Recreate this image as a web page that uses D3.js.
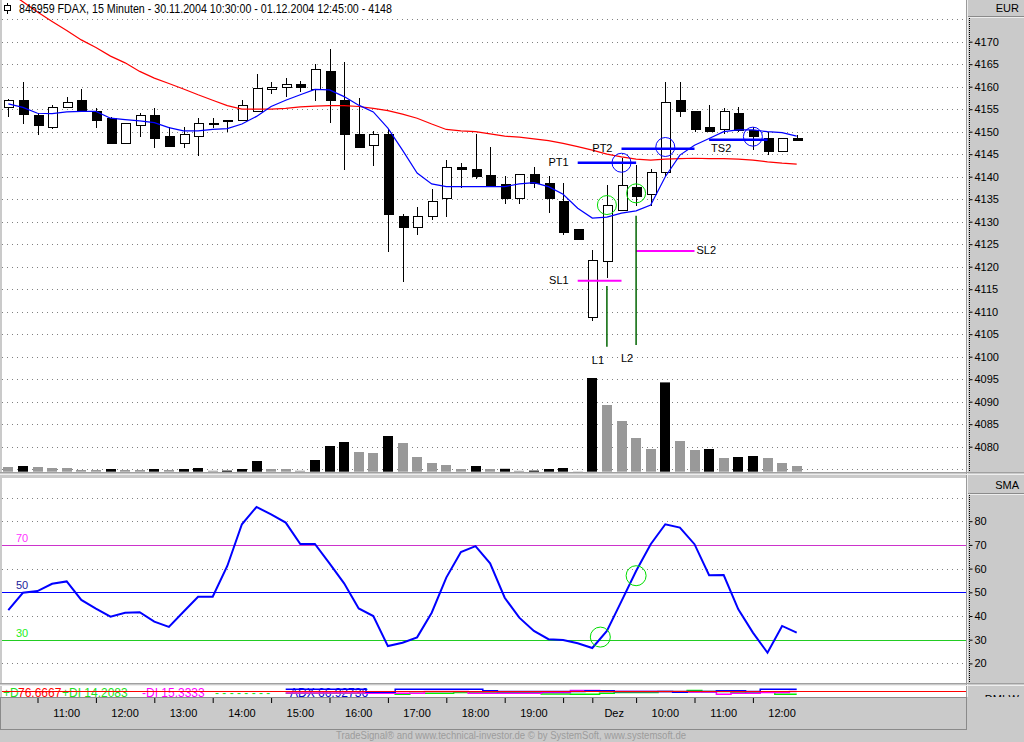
<!DOCTYPE html>
<html>
<head>
<meta charset="utf-8">
<script src="https://cdnjs.cloudflare.com/ajax/libs/d3/7.8.5/d3.min.js"></script>
<style>
  body { margin: 0; background: #cacaca; }
  svg { display: block; font-family: "Liberation Sans", Arial, sans-serif; }
</style>
</head>
<body>
<div id="chart"></div>
<script>
'use strict';

// 15 minute bars, 30.11.2004 10:30 - 01.12.2004 12:45
const times = [
  '30.11. 10:30', '30.11. 10:45', '30.11. 11:00', '30.11. 11:15', '30.11. 11:30', '30.11. 11:45',
  '30.11. 12:00', '30.11. 12:15', '30.11. 12:30', '30.11. 12:45', '30.11. 13:00', '30.11. 13:15',
  '30.11. 13:30', '30.11. 13:45', '30.11. 14:00', '30.11. 14:15', '30.11. 14:30', '30.11. 14:45',
  '30.11. 15:00', '30.11. 15:15', '30.11. 15:30', '30.11. 15:45', '30.11. 16:00', '30.11. 16:15',
  '30.11. 16:30', '30.11. 16:45', '30.11. 17:00', '30.11. 17:15', '30.11. 17:30', '30.11. 17:45',
  '30.11. 18:00', '30.11. 18:15', '30.11. 18:30', '30.11. 18:45', '30.11. 19:00', '30.11. 19:15',
  '30.11. 19:30', '30.11. 19:45', '30.11. 20:00', '30.11. 20:15',
  '01.12. 09:15', '01.12. 09:30', '01.12. 09:45', '01.12. 10:00', '01.12. 10:15', '01.12. 10:30',
  '01.12. 10:45', '01.12. 11:00', '01.12. 11:15', '01.12. 11:30', '01.12. 11:45', '01.12. 12:00',
  '01.12. 12:15', '01.12. 12:30', '01.12. 12:45'
];

const open = [4155.4, 4157.0, 4153.5, 4151.0, 4155.4, 4157.0, 4154.5, 4153.0, 4147.3, 4151.3, 4153.5, 4149.0, 4147.3, 4149.0, 4151.9,
  4152.6, 4152.5, 4154.5, 4159.4, 4159.9, 4160.4, 4159.4, 4163.4, 4157.0, 4149.4, 4147.0, 4149.4, 4131.1, 4128.8, 4131.2, 4135.2,
  4142.1, 4141.7, 4140.2, 4138.2, 4135.2, 4140.5, 4138.5, 4134.5, 4128.2, 4108.8, 4121.1, 4132.5, 4137.6, 4136.1, 4141.0, 4157.0,
  4154.6, 4151.0, 4150.5, 4154.0, 4150.2, 4148.5, 4145.6, 4148.5];
const high = [4157.2, 4161.0, 4154.1, 4155.9, 4157.8, 4159.5, 4155.2, 4153.2, 4152.0, 4154.1, 4155.2, 4151.0, 4151.0, 4153.0, 4153.0,
  4152.6, 4157.0, 4162.8, 4161.0, 4161.9, 4161.3, 4165.0, 4168.4, 4165.5, 4157.4, 4150.2, 4150.5, 4131.7, 4133.3, 4137.3, 4143.7,
  4143.1, 4149.5, 4146.7, 4140.2, 4140.6, 4142.2, 4140.2, 4138.5, 4128.3, 4123.7, 4138.1, 4144.1, 4142.6, 4141.7, 4161.0, 4161.0,
  4154.7, 4155.9, 4155.2, 4155.4, 4151.1, 4150.0, 4148.6, 4149.3];
const low = [4153.3, 4151.8, 4149.3, 4150.5, 4155.3, 4154.4, 4150.9, 4147.3, 4147.2, 4148.9, 4146.4, 4146.7, 4146.4, 4144.6, 4150.9,
  4150.0, 4152.5, 4154.5, 4158.4, 4157.8, 4158.9, 4156.9, 4151.9, 4141.6, 4146.3, 4142.4, 4123.2, 4116.7, 4127.0, 4130.4, 4131.1,
  4137.6, 4139.6, 4137.9, 4133.9, 4133.9, 4137.6, 4132.0, 4127.0, 4125.9, 4108.0, 4117.6, 4132.5, 4133.5, 4133.6, 4140.0, 4153.3,
  4150.0, 4150.1, 4149.6, 4150.0, 4145.9, 4144.8, 4145.5, 4148.0];
const close = [4157.0, 4153.8, 4151.3, 4155.4, 4156.5, 4154.5, 4152.4, 4147.3, 4151.9, 4153.5, 4148.4, 4146.8, 4149.4, 4151.9, 4151.9,
  4152.6, 4155.9, 4159.5, 4159.9, 4160.4, 4159.9, 4163.9, 4156.9, 4149.3, 4146.4, 4149.4, 4131.6, 4128.8, 4131.1, 4134.5, 4142.1,
  4141.6, 4140.0, 4137.9, 4135.2, 4140.5, 4138.5, 4135.2, 4127.6, 4126.0, 4121.3, 4133.7, 4138.1, 4135.6, 4141.0, 4156.5, 4154.4,
  4150.4, 4150.1, 4154.6, 4150.2, 4148.9, 4145.6, 4148.5, 4148.0];

const volume = [470, 570, 470, 370, 370, 170, 170, 270, 170, 170, 270, 170, 270, 370, 100, 110, 270, 1070, 270, 270, 100, 1170,
  2570, 2970, 1970, 1870, 3570, 2870, 1470, 870, 670, 270, 570, 270, 290, 90, 110, 270, 370, 30, 9370, 6670, 5070, 3370, 2270,
  8930, 3070, 2170, 2270, 1370, 1470, 1570, 1370, 870, 570];

// moving averages (blue = short, red = long)
const maShort = [4156.2, 4155.4, 4154.1, 4154.0, 4154.4, 4154.5, 4154.5, 4153.0, 4152.7, 4152.4, 4152.0, 4150.9, 4150.2, 4150.2,
  4150.5, 4150.7, 4151.7, 4153.4, 4155.6, 4157.0, 4158.2, 4159.4, 4159.3, 4157.8, 4155.9, 4154.4, 4150.8, 4145.9, 4140.8, 4138.4,
  4137.8, 4137.8, 4137.8, 4137.8, 4137.8, 4138.4, 4138.7, 4137.8, 4136.1, 4133.0, 4130.8, 4131.0, 4131.9, 4132.4, 4133.7, 4140.0,
  4144.8, 4147.0, 4148.5, 4150.0, 4150.4, 4150.4, 4150.0, 4149.8, 4149.0];
const maLong = [4181.0, 4178.9, 4176.6, 4174.5, 4172.5, 4170.4, 4168.7, 4166.8, 4165.3, 4163.4, 4161.9, 4160.7, 4159.5, 4158.2,
  4157.0, 4155.8, 4155.0, 4155.0, 4155.0, 4155.2, 4155.5, 4155.7, 4155.8, 4155.8, 4155.6, 4155.2, 4154.7, 4153.9, 4153.0, 4151.7,
  4150.5, 4150.2, 4150.0, 4149.5, 4149.0, 4148.8, 4148.4, 4148.0, 4147.4, 4146.7, 4145.9, 4145.0, 4144.4, 4143.9, 4143.7, 4143.9,
  4144.0, 4144.1, 4144.0, 4144.0, 4143.9, 4143.7, 4143.3, 4143.0, 4142.8];

// oscillator panel (SMA)
const rsi = [42.5, 49.8, 50.5, 53.6, 54.6, 46.8, 43.1, 39.7, 41.4, 41.6, 37.6, 35.4, 41.8, 48.1, 48.1, 61.1, 78.7, 86.0, 82.9,
  79.4, 70.4, 70.4, 62.2, 53.8, 43.2, 40.0, 27.3, 28.7, 31.0, 41.4, 56.2, 67.0, 69.5, 62.2, 47.7, 39.3, 33.7, 30.2, 29.9, 28.5,
  26.5, 33.7, 46.3, 59.0, 70.3, 78.7, 77.3, 70.3, 57.2, 57.3, 42.8, 33.0, 24.5, 35.8, 33.0];
const rsiLevels = [70, 50, 30];
const rsiGrid = [20, 40, 60, 80, 90];

// DMI strip (mostly hidden)
const n = null;
const adx = [n, n, n, n, n, n, n, n, n, n, n, n, n, n, n, n, n, n, n, 35, 35, 35, 35, 35, 35, 22, 22, 35, 35, 35, 35, 35, 35,
  28.6, 25, 25, 25, 25, 25, 25, 28.6, 28.6, 25, 25, 25, 25, 21.4, 25, 25, 28.6, 28.6, 25, 35, 35, 35];
const plusDI = [n, n, n, n, n, n, n, n, n, n, n, n, n, n, n, n, n, n, n, 17, 17, 17, 17, 17, 17, 17, 17, 12, 17, 17, 17, 21, 21,
  21, 21, 21, 21, 14, 14, 12, 12, 17, 21, 21, 21, 25, 25, 29, 25, 25, 21, 23, 23, 12, 12];
const minusDI = [n, n, n, n, n, n, n, n, n, n, n, n, n, n, n, n, n, n, n, 18, 18, 18, 18, 18, 18, 17, 17, 17, 17, 25, 25, 25, 17,
  17, 17, 17, 17, 21, 21, 29, 29, 25, 25, 25, 25, 25, 25, 23, 23, 12, 17, 17, 21, 21, 25];
const dmiLevel = 25;

// axis
const priceTicks = [4080, 4085, 4090, 4095, 4100, 4105, 4110, 4115, 4120, 4125, 4130, 4135, 4140, 4145, 4150, 4155, 4160, 4165, 4170];
const priceGrid = [4075, 4080, 4085, 4090, 4095, 4100, 4105, 4110, 4115, 4120, 4125, 4130, 4135, 4140, 4145, 4150, 4155, 4160, 4165, 4170, 4175];
const rsiTicks = [20, 30, 40, 50, 60, 70, 80];
const tickTimes = ['30.11. 11:00', '30.11. 12:00', '30.11. 13:00', '30.11. 14:00', '30.11. 15:00', '30.11. 16:00', '30.11. 17:00',
  '30.11. 18:00', '30.11. 19:00', '30.11. 20:00', '01.12. 09:15', '01.12. 10:00', '01.12. 11:00', '01.12. 12:00'];
const tickLabels = ['11:00', '12:00', '13:00', '14:00', '15:00', '16:00', '17:00', '18:00', '19:00', '', 'Dez', '10:00', '11:00', '12:00'];

// trade marks
const levels = [
  { name: 'PT1', from: 39, to: 43, price: 4143.1, kind: 'target', side: 'left' },
  { name: 'PT2', from: 42, to: 47, price: 4146.2, kind: 'target', side: 'left' },
  { name: 'TS2', from: 48, to: 52, price: 4148.2, kind: 'target', side: 'below' },
  { name: 'SL1', from: 39, to: 42, price: 4116.9, kind: 'stop', side: 'left' },
  { name: 'SL2', from: 43, to: 47, price: 4123.5, kind: 'stop', side: 'right' }
];
const entries = [
  { name: 'L1', at: 41, top: 4115.7, bottom: 4102.2 },
  { name: 'L2', at: 43, top: 4131.3, bottom: 4102.6 }
];
const priceCircles = [
  { at: 41, price: 4133.7, color: 'green' },
  { at: 43, price: 4136.3, color: 'green' },
  { at: 42, price: 4143.1, color: 'blue' },
  { at: 45, price: 4146.6, color: 'blue' },
  { at: 51, price: 4148.9, color: 'blue' }
];
const rsiCircles = [
  { at: 40.55, value: 31.1 },
  { at: 43, value: 57.0 }
];

const title = '846959  FDAX, 15 Minuten - 30.11.2004 10:30:00 - 01.12.2004 12:45:00 - 4148';
const footer = 'TradeSignal® and www.technical-investor.de © by SystemSoft, www.systemsoft.de';

function drawChart(elementID, width, height) {
  const svg = d3.select('#' + elementID)
    .append('svg')
    .attr('width', width)
    .attr('height', height);

  const plotL = 2, plotR = 966;
  const gray = '#cacaca';

  // panel backgrounds
  svg.append('rect').attr('width', width).attr('height', height).attr('fill', gray);
  svg.append('rect').attr('x', plotL).attr('y', 0).attr('width', plotR - plotL).attr('height', 472).attr('fill', '#fff');
  svg.append('rect').attr('x', plotL).attr('y', 478).attr('width', plotR - plotL).attr('height', 205).attr('fill', '#fff');
  svg.append('rect').attr('x', plotL).attr('y', 686).attr('width', plotR - plotL).attr('height', 11).attr('fill', '#fff');

  const defs = svg.append('defs');
  defs.append('clipPath').attr('id', 'clipMain')
    .append('rect').attr('x', plotL).attr('y', 0).attr('width', plotR - plotL).attr('height', 472);
  defs.append('clipPath').attr('id', 'clipDmi')
    .append('rect').attr('x', plotL).attr('y', 686).attr('width', plotR - plotL).attr('height', 11);
  defs.append('clipPath').attr('id', 'clipDmiLabel')
    .append('rect').attr('x', 968).attr('y', 686).attr('width', 56).attr('height', 11);

  const x = d3.scaleLinear().domain([0, times.length - 1]).range([8.3, 796.7]);
  const y = d3.scaleLinear().domain([4080, 4170]).range([446.7, 41.7]);
  const yVol = d3.scaleLinear().domain([0, 10000]).range([471.7, 371.7]);
  const yRsi = d3.scaleLinear().domain([20, 80]).range([663.4, 521.2]);
  const yDmi = d3.scaleLinear().domain([0, 50]).range([697, 686]);

  // ---- price panel ----
  const main = svg.append('g').attr('clip-path', 'url(#clipMain)');

  main.selectAll('.grid')
    .data(priceGrid)
    .enter()
    .append('line')
    .attr('class', 'grid')
    .attr('x1', plotL).attr('x2', plotR)
    .attr('y1', d => Math.round(y(d)) + 0.5).attr('y2', d => Math.round(y(d)) + 0.5)
    .attr('stroke', '#808080')
    .attr('stroke-dasharray', '1,4');

  // volume
  main.selectAll('.vol')
    .data(volume)
    .enter()
    .append('rect')
    .attr('class', 'vol')
    .attr('x', (d, i) => Math.round(x(i) - 5))
    .attr('width', 10)
    .attr('y', d => yVol(d))
    .attr('height', d => yVol(0) - yVol(d))
    .attr('fill', (d, i) => (i > 0 && d > volume[i - 1]) ? '#000' : '#999');

  // candles
  const candles = main.selectAll('.candle')
    .data(times)
    .enter()
    .append('g')
    .attr('class', 'candle')
    .attr('shape-rendering', 'crispEdges');

  candles.append('line')
    .attr('x1', (d, i) => Math.round(x(i)) + 0.5)
    .attr('x2', (d, i) => Math.round(x(i)) + 0.5)
    .attr('y1', (d, i) => y(high[i]))
    .attr('y2', (d, i) => y(low[i]))
    .attr('stroke', '#000');

  candles.append('rect')
    .attr('x', (d, i) => Math.round(x(i)) - 4)
    .attr('width', 9)
    .attr('y', (d, i) => y(Math.max(open[i], close[i])))
    .attr('height', (d, i) => Math.max(1, Math.abs(y(open[i]) - y(close[i]))))
    .attr('fill', (d, i) => close[i] < open[i] ? '#000' : '#fff')
    .attr('stroke', '#000');

  // moving averages
  const maLine = arr => d3.line().x((d, i) => x(i)).y(d => y(d))(arr);
  main.append('path').attr('d', maLine(maLong)).attr('fill', 'none').attr('stroke', '#f00').attr('stroke-width', 1.2);
  main.append('path').attr('d', maLine(maShort)).attr('fill', 'none').attr('stroke', '#00f').attr('stroke-width', 1.2);

  // trade levels
  main.selectAll('.level')
    .data(levels)
    .enter()
    .append('line')
    .attr('class', 'level')
    .attr('x1', d => x(d.from)).attr('x2', d => x(d.to))
    .attr('y1', d => y(d.price)).attr('y2', d => y(d.price))
    .attr('stroke', d => d.kind === 'target' ? '#0000ff' : '#ff00ff')
    .attr('stroke-width', d => d.kind === 'target' ? 2.5 : 2);

  main.selectAll('.levelLabel')
    .data(levels)
    .enter()
    .append('text')
    .attr('class', 'levelLabel')
    .attr('x', d => d.side === 'left' ? x(d.from) - 9 : d.side === 'right' ? x(d.to) + 2 : x(d.from) + 2)
    .attr('y', d => y(d.price) + (d.side === 'below' ? 12 : 3))
    .attr('text-anchor', d => d.side === 'left' ? 'end' : 'start')
    .attr('font-size', 11)
    .text(d => d.name);

  main.selectAll('.entry')
    .data(entries)
    .enter()
    .append('line')
    .attr('class', 'entry')
    .attr('x1', d => x(d.at)).attr('x2', d => x(d.at))
    .attr('y1', d => y(d.top)).attr('y2', d => y(d.bottom))
    .attr('stroke', '#006400')
    .attr('stroke-width', 1.5);

  main.selectAll('.entryLabel')
    .data(entries)
    .enter()
    .append('text')
    .attr('class', 'entryLabel')
    .attr('x', d => x(d.at) - 9)
    .attr('y', d => y(d.bottom) + 17)
    .attr('text-anchor', 'middle')
    .attr('font-size', 11)
    .text(d => d.name);

  main.selectAll('.pcircle')
    .data(priceCircles)
    .enter()
    .append('circle')
    .attr('class', 'pcircle')
    .attr('cx', d => x(d.at)).attr('cy', d => y(d.price))
    .attr('r', 9.5)
    .attr('fill', 'none')
    .attr('stroke', d => d.color === 'green' ? '#00dd00' : '#0000ff');

  // title
  const head = svg.append('g');
  head.append('line').attr('x1', 7.5).attr('x2', 7.5).attr('y1', 3).attr('y2', 14).attr('stroke', '#000');
  head.append('rect').attr('x', 4.5).attr('y', 5.5).attr('width', 6).attr('height', 5).attr('fill', '#fff').attr('stroke', '#000');
  head.append('text')
    .attr('x', 19).attr('y', 13)
    .attr('font-size', 12)
    .attr('textLength', 373)
    .attr('lengthAdjust', 'spacingAndGlyphs')
    .text(title);

  // price axis
  svg.append('line').attr('x1', 966.5).attr('x2', 966.5).attr('y1', 0).attr('y2', 697).attr('stroke', '#9a9a9a');
  svg.append('line').attr('x1', 967.5).attr('x2', 967.5).attr('y1', 0).attr('y2', 697).attr('stroke', '#eee');
  svg.append('line').attr('x1', 968).attr('x2', 1024).attr('y1', 16.5).attr('y2', 16.5).attr('stroke', '#8a8a8a');
  svg.append('line').attr('x1', 968).attr('x2', 1024).attr('y1', 17.5).attr('y2', 17.5).attr('stroke', '#eee');
  svg.append('text').attr('x', 1019).attr('y', 12).attr('text-anchor', 'end').attr('font-size', 11).text('EUR');
  svg.append('line').attr('x1', 969.5).attr('x2', 969.5).attr('y1', 18).attr('y2', 472)
    .attr('stroke', '#000').attr('stroke-dasharray', '1,1');

  const yAxis = d3.axisRight(y).tickValues(priceTicks).tickSize(3).tickPadding(2).tickFormat(d3.format('d'));
  svg.append('g')
    .attr('transform', 'translate(969.5,0)')
    .call(yAxis)
    .call(g => g.select('.domain').remove())
    .call(g => g.selectAll('text').attr('font-size', 11).attr('font-family', 'Liberation Sans, Arial, sans-serif'));

  // panel separator
  svg.append('line').attr('x1', 0).attr('x2', 1024).attr('y1', 472.5).attr('y2', 472.5).attr('stroke', '#a0a0a0');
  svg.append('line').attr('x1', 0).attr('x2', 1024).attr('y1', 474.5).attr('y2', 474.5).attr('stroke', '#eee');

  // ---- oscillator panel ----
  const osc = svg.append('g');
  osc.selectAll('.rgrid')
    .data(rsiGrid)
    .enter()
    .append('line')
    .attr('class', 'rgrid')
    .attr('x1', plotL).attr('x2', plotR)
    .attr('y1', d => Math.round(yRsi(d)) + 0.5).attr('y2', d => Math.round(yRsi(d)) + 0.5)
    .attr('stroke', '#808080')
    .attr('stroke-dasharray', '1,4');

  const levelColor = { 70: '#cc33cc', 50: '#0000ff', 30: '#22cc22' };
  const levelText = { 70: '#ff33ff', 50: '#1a1a9a', 30: '#22ee22' };
  osc.selectAll('.rlevel')
    .data(rsiLevels)
    .enter()
    .append('line')
    .attr('class', 'rlevel')
    .attr('x1', plotL).attr('x2', plotR)
    .attr('y1', d => Math.round(yRsi(d)) + 0.5).attr('y2', d => Math.round(yRsi(d)) + 0.5)
    .attr('stroke', d => levelColor[d]);
  osc.selectAll('.rlevelText')
    .data(rsiLevels)
    .enter()
    .append('text')
    .attr('class', 'rlevelText')
    .attr('x', 16)
    .attr('y', d => yRsi(d) - 3)
    .attr('font-size', 11)
    .attr('fill', d => levelText[d])
    .text(d => d);

  osc.append('path')
    .attr('d', d3.line().x((d, i) => x(i)).y(d => yRsi(d))(rsi))
    .attr('fill', 'none')
    .attr('stroke', '#0000ff')
    .attr('stroke-width', 2);

  osc.selectAll('.rcircle')
    .data(rsiCircles)
    .enter()
    .append('circle')
    .attr('class', 'rcircle')
    .attr('cx', d => x(d.at)).attr('cy', d => yRsi(d.value))
    .attr('r', 10)
    .attr('fill', 'none')
    .attr('stroke', '#00dd00');

  svg.append('line').attr('x1', 968).attr('x2', 1024).attr('y1', 493.5).attr('y2', 493.5).attr('stroke', '#8a8a8a');
  svg.append('line').attr('x1', 968).attr('x2', 1024).attr('y1', 494.5).attr('y2', 494.5).attr('stroke', '#eee');
  svg.append('text').attr('x', 1019).attr('y', 489).attr('text-anchor', 'end').attr('font-size', 11).text('SMA');
  svg.append('line').attr('x1', 969.5).attr('x2', 969.5).attr('y1', 495).attr('y2', 683)
    .attr('stroke', '#000').attr('stroke-dasharray', '1,1');
  svg.append('g')
    .attr('transform', 'translate(969.5,0)')
    .call(d3.axisRight(yRsi).tickValues(rsiTicks).tickSize(3).tickPadding(2))
    .call(g => g.select('.domain').remove())
    .call(g => g.selectAll('text').attr('font-size', 11).attr('font-family', 'Liberation Sans, Arial, sans-serif'));

  svg.append('line').attr('x1', 0).attr('x2', 1024).attr('y1', 683.5).attr('y2', 683.5).attr('stroke', '#a0a0a0');
  svg.append('line').attr('x1', 0).attr('x2', 1024).attr('y1', 685.5).attr('y2', 685.5).attr('stroke', '#eee');

  // ---- DMI strip ----
  const dmi = svg.append('g').attr('clip-path', 'url(#clipDmi)');
  const dmiText = [
    { t: '+D', x: 3, c: '#22dd22' },
    { t: '76.6667', x: 18, c: '#ff0000' },
    { t: '+DI 14.2083', x: 62, c: '#22dd22' },
    { t: '-DI 15.3333', x: 142, c: '#ff00ff' },
    { t: '- - - -  - - - -', x: 215, c: '#22dd22' },
    { t: 'ADX 66.92736', x: 290, c: '#0000cc' }
  ];
  dmi.selectAll('.dtext')
    .data(dmiText)
    .enter()
    .append('text')
    .attr('class', 'dtext')
    .attr('x', d => d.x).attr('y', 697)
    .attr('font-size', 12)
    .attr('fill', d => d.c)
    .text(d => d.t);
  const stepLine = d3.line().defined(d => d != null).x((d, i) => x(i)).y(d => yDmi(d)).curve(d3.curveStep);
  dmi.append('path').attr('d', stepLine(plusDI)).attr('fill', 'none').attr('stroke', '#00ee00').attr('stroke-width', 1.5);
  dmi.append('path').attr('d', stepLine(minusDI)).attr('fill', 'none').attr('stroke', '#ff00ff').attr('stroke-width', 1.5);
  dmi.append('path').attr('d', stepLine(adx)).attr('fill', 'none').attr('stroke', '#0000ff').attr('stroke-width', 1.5);
  dmi.append('line').attr('x1', plotL).attr('x2', plotR)
    .attr('y1', yDmi(dmiLevel)).attr('y2', yDmi(dmiLevel)).attr('stroke', '#ff0000');

  svg.append('g').attr('clip-path', 'url(#clipDmiLabel)')
    .append('text').attr('x', 1019).attr('y', 703).attr('text-anchor', 'end').attr('font-size', 11).text('DMI-W');

  // ---- time axis ----
  svg.append('rect').attr('x', 0.5).attr('y', 697.5).attr('width', 966).attr('height', 32)
    .attr('fill', gray).attr('stroke', '#8a8a8a');
  const tickIdx = tickTimes.map(t => times.indexOf(t));
  svg.append('g')
    .attr('transform', 'translate(0,698)')
    .call(d3.axisBottom(x).tickValues(tickIdx).tickFormat('').tickSizeInner(5).tickSizeOuter(0))
    .call(g => g.select('.domain').remove());

  svg.selectAll('.tlabel')
    .data(tickLabels)
    .enter()
    .append('text')
    .attr('class', 'tlabel')
    .attr('x', (d, i) => x(i < tickIdx.length - 1 ? (tickIdx[i] + tickIdx[i + 1]) / 2 : tickIdx[i] + 2))
    .attr('y', 717)
    .attr('text-anchor', 'middle')
    .attr('font-size', 11)
    .text(d => d);

  svg.append('text')
    .attr('x', 336).attr('y', 739)
    .attr('font-size', 10)
    .attr('textLength', 350)
    .attr('lengthAdjust', 'spacingAndGlyphs')
    .attr('fill', '#9c9c9c')
    .text(footer);
}

drawChart('chart', 1024, 742);
</script>
</body>
</html>
